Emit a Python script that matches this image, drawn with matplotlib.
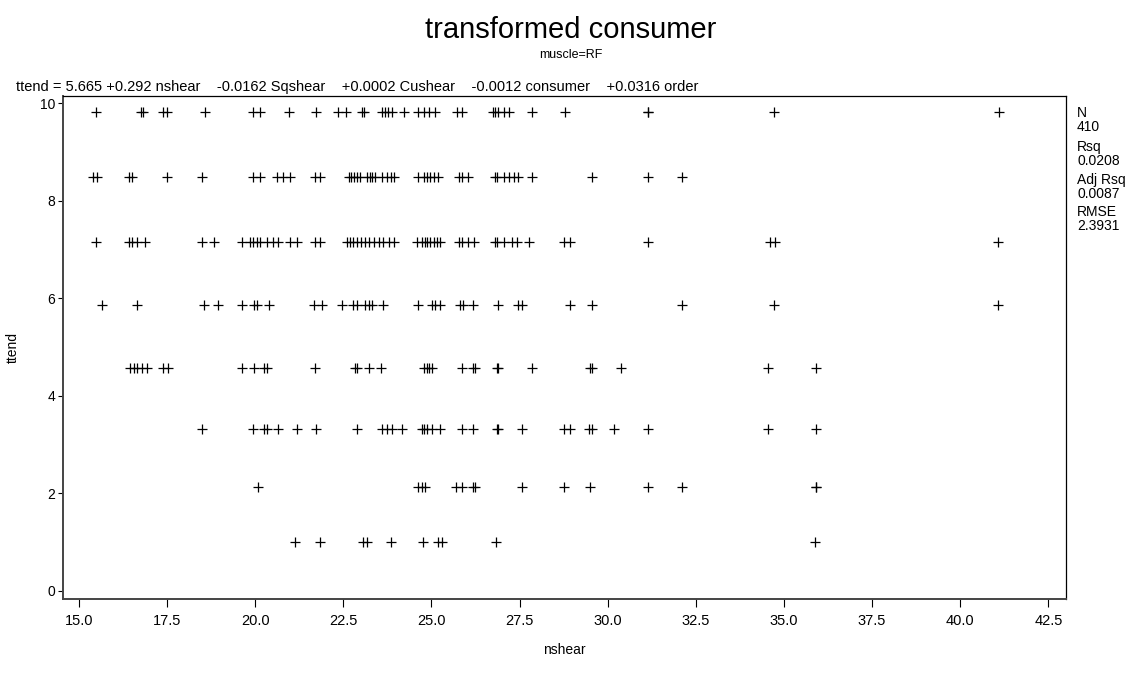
import matplotlib
matplotlib.use("Agg")
import matplotlib.pyplot as plt

plt.rcParams['font.family'] = ['Liberation Sans', 'DejaVu Sans']

# ttend levels (rows of the scatter) and the nshear values seen on each row
ttend_levels = [9.82, 8.49, 7.16, 5.86, 4.56, 3.31, 2.12, 1.0]

nshear_r1 = [15.49, 16.75, 16.83, 17.40, 17.50, 18.58, 19.95, 20.14, 20.97, 21.73,
             22.36, 22.58, 23.03, 23.09, 23.60, 23.69, 23.78, 23.88, 24.21, 24.63,
             24.78, 24.92, 25.11, 25.72, 25.86, 26.76, 26.81, 26.90, 27.05, 27.19,
             27.85, 28.78, 31.13, 31.13, 34.72, 41.09]
nshear_r2 = [15.41, 15.51, 16.41, 16.51, 17.50, 18.49, 19.95, 20.14, 20.62, 20.80,
             21.00, 21.70, 21.84, 22.65, 22.72, 22.80, 22.90, 22.98, 23.17, 23.25,
             23.32, 23.40, 23.60, 23.74, 23.84, 23.93, 24.63, 24.78, 24.87, 24.97,
             25.06, 25.20, 25.77, 25.86, 26.05, 26.81, 26.86, 27.05, 27.19, 27.33,
             27.47, 27.85, 29.55, 31.13, 32.10]
nshear_r3 = [15.49, 16.41, 16.50, 16.66, 16.88, 18.49, 18.84, 19.62, 19.86, 19.95,
             20.05, 20.14, 20.33, 20.52, 20.66, 20.99, 21.18, 21.70, 21.84, 22.60,
             22.68, 22.79, 22.89, 23.00, 23.12, 23.22, 23.36, 23.50, 23.64, 23.79,
             23.93, 24.60, 24.73, 24.82, 24.87, 24.97, 25.06, 25.16, 25.25, 25.77,
             25.86, 26.05, 26.20, 26.81, 26.86, 27.05, 27.28, 27.43, 27.76, 28.75,
             28.94, 31.13, 34.61, 34.75, 41.06]
nshear_r4 = [15.65, 16.65, 18.54, 18.96, 19.62, 19.97, 20.05, 20.38, 21.68, 21.90,
             22.46, 22.79, 22.89, 23.12, 23.22, 23.31, 23.64, 24.63, 25.01, 25.11,
             25.25, 25.82, 25.91, 26.19, 26.90, 27.47, 27.57, 28.94, 29.55, 32.11,
             34.72, 41.06]
nshear_r5 = [16.46, 16.55, 16.65, 16.79, 16.93, 17.40, 17.54, 19.62, 19.97, 20.26,
             20.35, 21.70, 22.84, 22.89, 23.22, 23.58, 24.80, 24.87, 24.92, 25.01,
             25.86, 26.19, 26.24, 26.86, 26.90, 27.85, 29.51, 29.55, 30.38, 34.56,
             35.92]
nshear_r6 = [18.49, 19.95, 20.24, 20.33, 20.66, 21.18, 21.73, 22.89, 23.60, 23.74,
             23.88, 24.16, 24.73, 24.78, 24.87, 25.01, 25.25, 25.86, 26.19, 26.86,
             26.90, 27.57, 28.75, 28.94, 29.46, 29.55, 30.19, 31.13, 34.56, 35.92]
nshear_r7 = [20.07, 24.63, 24.73, 24.82, 25.70, 25.86, 26.19, 26.24, 27.57, 28.77,
             29.51, 31.13, 32.11, 35.92, 35.92]
nshear_r8 = [21.14, 21.84, 23.06, 23.18, 23.84, 24.75, 25.20, 25.29, 26.84, 35.89]

rows = [nshear_r1, nshear_r2, nshear_r3, nshear_r4,
        nshear_r5, nshear_r6, nshear_r7, nshear_r8]

x_ticks = [15.0, 17.5, 20.0, 22.5, 25.0, 27.5, 30.0, 32.5, 35.0, 37.5, 40.0, 42.5]
y_ticks = [0, 2, 4, 6, 8, 10]

equation = ("ttend = 5.665 +0.292 nshear    -0.0162 Sqshear    +0.0002 Cushear    "
            "-0.0012 consumer    +0.0316 order")
stat_labels = ['N', '410', 'Rsq', '0.0208', 'Adj Rsq', '0.0087', 'RMSE', '2.3931']

W, H = 1141, 673
fig = plt.figure(figsize=(W / 100, H / 100), dpi=100)
ax = fig.add_axes([63 / W, 1 - 599 / H, (1066 - 63) / W, (599 - 96) / H])

for lvl, xs in zip(ttend_levels, rows):
    ax.plot(xs, [lvl] * len(xs), linestyle='none', marker='+',
            markersize=7.5, markeredgewidth=0.9, color='black')

ax.set_xlim(14.55, 43.0)
ax.set_ylim(-0.17, 10.15)
ax.set_xticks(x_ticks)
ax.set_xticklabels([f'{v:.1f}' for v in x_ticks])
ax.set_yticks(y_ticks)
ax.tick_params(axis='x', direction='out', length=6, width=0.8, pad=5, labelsize=10.5)
ax.tick_params(axis='y', direction='out', length=3.5, width=0.8, pad=2, labelsize=10)

for side in ['top', 'right']:
    ax.spines[side].set_linewidth(0.9)
    ax.spines[side].set_color('black')
for side in ['left', 'bottom']:
    ax.spines[side].set_linewidth(1.4)
    ax.spines[side].set_color('#444444')

ax.set_xlabel('nshear', fontsize=10)
ax.xaxis.set_label_coords(0.5, -0.088)
ax.set_ylabel('ttend', fontsize=10)
ax.yaxis.set_label_coords(-0.043, 0.5)

fig.text(0.5, 1 - 30 / H, 'transformed consumer', ha='center', va='center', fontsize=21)
fig.text(0.5, 1 - 55 / H, 'muscle=RF', ha='center', va='center', fontsize=9)
fig.text(16 / W, 1 - 87 / H, equation, ha='left', va='center', fontsize=10.5)

stat_y = [113, 127, 147, 161, 180, 194, 212, 226]
for lab, yp in zip(stat_labels, stat_y):
    fig.text(1077 / W, 1 - yp / H, lab, ha='left', va='center', fontsize=10)

fig.savefig('out.png', dpi=100)
